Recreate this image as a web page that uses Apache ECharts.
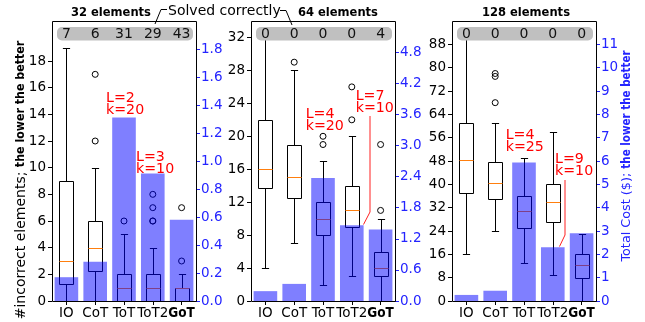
<!DOCTYPE html>
<html>
<head>
<meta charset="utf-8">
<script src="https://cdn.jsdelivr.net/npm/echarts@6/dist/echarts.min.js"></script>
<style>html,body{margin:0;padding:0;background:#fff}#c{width:645px;height:322px}</style>
</head>
<body>
<div id="c"></div>
<script>
// ---------- data ----------
const categories = ['IO', 'CoT', 'ToT', 'ToT2', 'GoT'];
const panelTitles = ['32 elements', '64 elements', '128 elements'];

// solved correctly counts
const solved32 = [7, 6, 31, 29, 43];
const solved64 = [0, 0, 0, 0, 4];
const solved128 = [0, 0, 0, 0, 0];

// boxplots: [low whisker, Q1, median, Q3, high whisker]
const box32 = [[0, 1.25, 3, 9, 19], [0, 2.25, 4, 6, 10], [0, 0, 1, 2, 5], [0, 0, 1, 2, 4], [0, 0, 1, 1, 2]];
const box64 = [[4, 13.75, 16, 22, 32], [7, 12.5, 15, 19, 28], [2, 8, 10, 12, 17], [3, 9, 11, 14, 20], [0, 3, 4, 6, 10]];
const box128 = [[16, 37, 48.5, 61, 90], [24, 35, 40.5, 47.75, 61], [13, 25, 31, 36, 49], [9, 27, 34, 40, 58], [0, 8, 12.5, 16, 23]];

// outliers per category
const out32 = [[], [12, 17], [6], [6, 6, 7, 8], [3, 7]];
const out64 = [[], [29], [19, 20], [22, 26], [11, 19]];
const out128 = [[], [68, 77, 78], [], [], []];

// total cost ($)
const cost32 = [0.17, 0.28, 1.31, 0.91, 0.58];
const cost64 = [0.19, 0.33, 2.37, 1.46, 1.38];
const cost128 = [0.26, 0.44, 5.94, 2.30, 2.90];

// axis ranges and ticks
const leftMax = [21, 34, 96];
const rightMax = [2.0, 5.4, 12];
const leftTicks32 = [0, 2, 4, 6, 8, 10, 12, 14, 16, 18];
const leftTicks64 = [0, 4, 8, 12, 16, 20, 24, 28, 32];
const leftTicks128 = [0, 8, 16, 24, 32, 40, 48, 56, 64, 72, 80, 88];
const rightTicks32 = [0, 0.2, 0.4, 0.6, 0.8, 1.0, 1.2, 1.4, 1.6, 1.8];
const rightTicks64 = [0, 0.6, 1.2, 1.8, 2.4, 3.0, 3.6, 4.2, 4.8];
const rightTicks128 = [0, 1, 2, 3, 4, 5, 6, 7, 8, 9, 10, 11];

// annotations (ToT, ToT2 settings)
const annot32 = ['L=2\nk=20', 'L=3\nk=10'];
const annot64 = ['L=4\nk=20', 'L=7\nk=10'];
const annot128 = ['L=4\nk=25', 'L=9\nk=10'];

// ---------- layout ----------
const solved = [solved32, solved64, solved128];
const boxes = [box32, box64, box128];
const outs = [out32, out64, out128];
const costs = [cost32, cost64, cost128];
const leftTicks = [leftTicks32, leftTicks64, leftTicks128];
const rightTicks = [rightTicks32, rightTicks64, rightTicks128];
const annots = [annot32, annot64, annot128];

const GL = [52, 251, 452], GT = 21, GW = 144, GH = 280;
const BLUE = '#2424ff';
const FONT = 'DejaVu Sans';
const BOLDFONT = 'DejaVu Sans Condensed';

function renderBox(params, api) {
  const i = api.value(0);
  const v = [1, 2, 3, 4, 5].map(k => api.value(k));
  const band = api.size([1, 0])[0];
  const bw = band * 0.5, cw = bw * 0.5;
  const xc = Math.round(api.coord([i, 0])[0]) + 0.5;
  const y = v.map(val => Math.round(api.coord([i, val])[1]) + 0.5);
  const ln = (x1, y1, x2, y2, c) => ({type: 'line', shape: {x1, y1, x2, y2}, style: {stroke: c || '#000', lineWidth: 1}});
  const bx = Math.round(xc - bw / 2) + 0.5, bwr = Math.round(bw);
  return {type: 'group', children: [
    ln(xc, y[3], xc, y[4]),
    ln(xc, y[1], xc, y[0]),
    ln(xc - cw / 2, y[4], xc + cw / 2, y[4]),
    ln(xc - cw / 2, y[0], xc + cw / 2, y[0]),
    {type: 'rect', shape: {x: bx, y: y[3], width: bwr, height: y[1] - y[3]}, style: {fill: '#fff', stroke: '#000', lineWidth: 1}},
    ln(bx, y[2], bx + bwr, y[2], '#ff7f0e')
  ]};
}

const grid = [], xAxis = [], yAxis = [], series = [];
for (let g = 0; g < 3; g++) {
  grid.push({left: GL[g], top: GT, width: GW, height: GH, show: false});
  xAxis.push({
    type: 'category', gridIndex: g, data: categories,
    axisLine: {show: false},
    axisTick: {show: true, alignWithLabel: true, length: 4, lineStyle: {color: '#000'}},
    axisLabel: {interval: 0, fontSize: 13.5, color: '#000', margin: 5, fontFamily: FONT,
      formatter: v => v === 'GoT' ? '{b|GoT}' : v,
      rich: {b: {fontWeight: 'bold', fontFamily: BOLDFONT, fontSize: 13.5, color: '#000'}}},
    splitLine: {show: false}
  });
  yAxis.push({
    type: 'value', gridIndex: g, position: 'left', min: 0, max: leftMax[g],
    axisLine: {show: false},
    axisTick: {show: true, length: 4, customValues: leftTicks[g], lineStyle: {color: '#000'}},
    axisLabel: {customValues: leftTicks[g], fontSize: 13.5, color: '#000', margin: 6, fontFamily: FONT},
    splitLine: {show: false}
  });
  yAxis.push({
    type: 'value', gridIndex: g, position: 'right', min: 0, max: rightMax[g],
    axisLine: {show: false},
    axisTick: {show: true, length: 4, customValues: rightTicks[g], lineStyle: {color: BLUE}},
    axisLabel: {customValues: rightTicks[g], fontSize: 13.5, color: BLUE, margin: 5, fontFamily: FONT,
      formatter: v => g < 2 ? v.toFixed(1) : String(Math.round(v))},
    splitLine: {show: false}
  });
  series.push({
    type: 'custom', xAxisIndex: g, yAxisIndex: 2 * g, z: 2,
    renderItem: renderBox,
    encode: {x: 0, y: [1, 2, 3, 4, 5]},
    data: boxes[g].map((b, i) => [i].concat(b))
  });
  const od = [];
  outs[g].forEach((arr, i) => arr.forEach(val => od.push([i, val])));
  series.push({
    type: 'scatter', xAxisIndex: g, yAxisIndex: 2 * g, z: 2,
    symbol: 'circle', symbolSize: 6,
    itemStyle: {color: 'rgba(0,0,0,0)', borderColor: '#000', borderWidth: 1, opacity: 1},
    data: od
  });
  series.push({
    type: 'bar', xAxisIndex: g, yAxisIndex: 2 * g + 1, z: 3,
    barWidth: '82%',
    itemStyle: {color: 'rgba(0,0,255,0.5)'},
    data: costs[g]
  });
}

const chart = echarts.init(document.getElementById('c'), null, {renderer: 'canvas'});
chart.setOption({
  animation: false,
  textStyle: {fontFamily: FONT},
  grid, xAxis, yAxis, series
});

// ---------- decorations ----------
const gfx = [];
for (let g = 0; g < 3; g++) {
  gfx.push({type: 'rect', z: 100, shape: {x: GL[g] + 0.5, y: GT + 0.5, width: GW, height: GH},
    style: {fill: 'none', stroke: '#000', lineWidth: 1}});
  gfx.push({type: 'rect', z: 50, shape: {x: GL[g] + 5, y: 27, width: GW - 8, height: 13.5, r: 5},
    style: {fill: '#c0c0c0'}});
  for (let i = 0; i < 5; i++) {
    const px = chart.convertToPixel({xAxisIndex: g}, i);
    gfx.push({type: 'text', z: 60, x: px, y: 34,
      style: {text: String(solved[g][i]), fontSize: 14, fontFamily: FONT, fill: '#111', align: 'center', verticalAlign: 'middle'}});
  }
}
const titlePos = [[111, 13], [338, 13], [526, 13]];
panelTitles.forEach((t, g) => gfx.push({type: 'text', z: 60, x: titlePos[g][0], y: titlePos[g][1],
  style: {text: t, fontSize: 12.8, fontWeight: 'bold', fontFamily: BOLDFONT, fill: '#000', align: 'center', verticalAlign: 'middle'}}));

gfx.push({type: 'text', z: 60, x: 168, y: 11.5,
  style: {text: 'Solved correctly', fontSize: 14, fontFamily: FONT, fill: '#000', align: 'left', verticalAlign: 'middle'}});
gfx.push({type: 'polyline', z: 60, shape: {points: [[167, 9.5], [161, 9.5], [155, 24]]}, style: {stroke: '#000', lineWidth: 1, fill: 'none'}});
gfx.push({type: 'polyline', z: 60, shape: {points: [[280, 10.5], [286, 10.5], [292, 25]]}, style: {stroke: '#000', lineWidth: 1, fill: 'none'}});

// axis titles
gfx.push({type: 'text', z: 60, x: 21, y: 180, rotation: Math.PI / 2,
  style: {text: '#incorrect elements; {b|the lower the better}', fontSize: 14, fontFamily: FONT, fill: '#000',
    align: 'center', verticalAlign: 'middle',
    rich: {b: {fontSize: 12.3, fontWeight: 'bold', fontFamily: BOLDFONT, fill: '#000'}}}});
gfx.push({type: 'text', z: 60, x: 627, y: 156, rotation: Math.PI / 2,
  style: {text: 'Total Cost ($); {b|the lower the better}', fontSize: 12.8, fontFamily: FONT, fill: BLUE,
    align: 'center', verticalAlign: 'middle',
    rich: {b: {fontSize: 11.5, fontWeight: 'bold', fontFamily: BOLDFONT, fill: BLUE}}}});

// red annotations: [panel, which, x, y of first line center]
const annPos = [[0, 0, 106, 98.7], [0, 1, 136, 157], [1, 0, 305.7, 114.2], [1, 1, 355.7, 96.2], [2, 0, 505.7, 135.8], [2, 1, 555, 159.2]];
annPos.forEach(([g, k, x, y]) => gfx.push({type: 'text', z: 60, x: x, y: y - 6,
  style: {text: annots[g][k], fontSize: 14.2, fontFamily: FONT, fill: '#ff0000', lineHeight: 12, align: 'left', verticalAlign: 'top'}}));
gfx.push({type: 'polyline', z: 60, shape: {points: [[370, 116], [370, 212], [363.5, 224.5]]}, style: {stroke: '#ff2020', lineWidth: 1, fill: 'none'}});
gfx.push({type: 'polyline', z: 60, shape: {points: [[565, 180], [565, 235], [559.5, 246.5]]}, style: {stroke: '#ff2020', lineWidth: 1, fill: 'none'}});

chart.setOption({graphic: {elements: gfx}});
</script>
</body>
</html>
